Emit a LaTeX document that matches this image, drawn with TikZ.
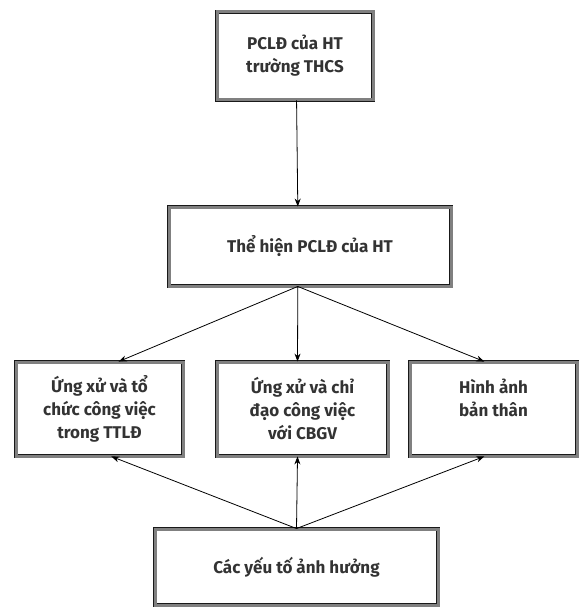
\documentclass[tikz,border=0pt]{standalone}
\usepackage{fontspec}
\setmainfont{Fira Sans}
\usepackage{tikz}
\usetikzlibrary{arrows.meta}

\begin{document}
\begin{tikzpicture}[x=1pt,y=-1pt,
    box/.style={draw=black!90, line width=0.9pt, double=black!50, double distance=3pt,
      align=center, font=\bfseries\fontsize{17}{23}\selectfont, text=black!80,
      inner sep=0pt},
    link/.style={line width=0.8pt, -{Stealth[length=8pt,width=6pt]}}]
      \useasboundingbox (0,0) rectangle (584,607);
      \node[box, minimum width=156, minimum height=88] (pcld) at (295,56)
      {PCLĐ của HT\\trường THCS};
      \node[box, minimum width=282, minimum height=79] (thehien) at (310,246.5)
      {Thể hiện PCLĐ của HT};
      \node[box, minimum width=167, minimum height=94] (tochuc) at (99.5,409)
      {Ứng xử và tổ\\chức công việc\\trong TTLĐ};
      \node[box, minimum width=171, minimum height=94] (chidao) at (302.5,409)
      {Ứng xử và chỉ\\đạo công việc\\với CBGV};
      \node[box, minimum width=167, minimum height=94] (hinhanh) at (493.5,409)
      {Hình ảnh\\bản thân\\\mbox{}};
      \node[box, minimum width=283, minimum height=76] (yeuto) at (296.5,567)
      {Các yếu tố ảnh hưởng};
      \draw[link] (pcld.-88) -- (thehien.107);
      \draw[link] (thehien.-107) -- (tochuc.68);
      \draw[link] (thehien.-107) -- (chidao.96);
      \draw[link] (thehien.-107) -- (hinhanh.101);
      \draw[link] (yeuto.north) -- (tochuc.-76);
      \draw[link] (yeuto.north) -- (chidao.-96);
      \draw[link] (yeuto.north) -- (hinhanh.-101);
    \end{tikzpicture}
\end{document}
